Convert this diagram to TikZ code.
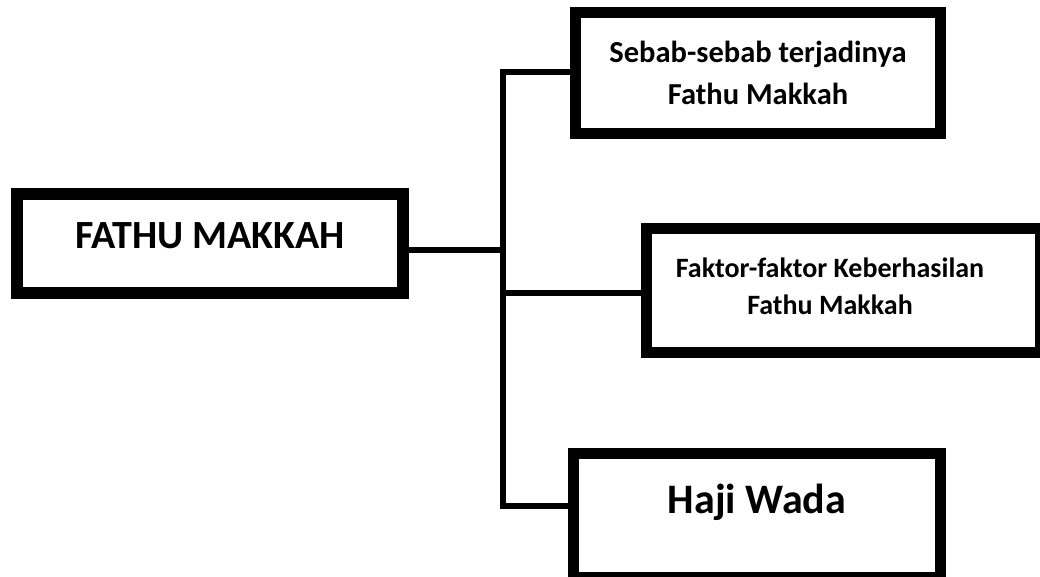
\documentclass[tikz,border=0pt]{standalone}
\usepackage{fontspec}
\setmainfont{Carlito}
\usepackage{tikz}
\usetikzlibrary{positioning}

\begin{document}
\begin{tikzpicture}[x=1pt,y=-1pt]
\tikzstyle{topic} = [draw,shape=rectangle,line width=12pt,inner sep=0pt,fill=white]
\tikzstyle{branch} = [draw,shape=rectangle,line width=11pt,inner sep=0pt,fill=white]
\tikzstyle{link} = [line width=6pt,line cap=rect,line join=miter]
\tikzstyle{caption} = [inner sep=0pt,align=center,font=\bfseries]

\clip (0,0) rectangle (1040,577);

\node[topic,minimum width=386pt,minimum height=99pt] (fm) at (210,243.5) {};
\node[branch,minimum width=365pt,minimum height=121pt] (sebab) at (758,73) {};
\node[branch,minimum width=394pt,minimum height=124pt] (faktor) at (843.5,290.5) {};
\node[branch,minimum width=367pt,minimum height=124pt] (haji) at (757,515.5) {};

\node[caption,anchor=base,font=\fontsize{40}{48}\selectfont\bfseries] (fmtext) at (210,248) {FATHU MAKKAH};
\node[caption,font=\fontsize{30.5}{42}\selectfont\bfseries] (sebabtext) at (758,73) {Sebab-sebab terjadinya\\Fathu Makkah};
\node[caption,font=\fontsize{28}{37}\selectfont\bfseries] (faktortext) at (830,286) {Faktor-faktor Keberhasilan\\Fathu Makkah};
\node[caption,anchor=base,font=\fontsize{42}{50}\selectfont\bfseries] (hajitext) at (757,513) {Haji Wada};

% trunk
\coordinate (t1) at (503,72);
\coordinate (t2) at (503,250);
\coordinate (t3) at (503,293);
\coordinate (t4) at (503,506);

\draw[link] (sebab.west |- t1) -- (t1) -- (t4) -- (haji.west |- t4);
\draw[link] (fm.east |- t2) -- (t2);
\draw[link] (t3) -- (faktor.west |- t3);
\end{tikzpicture}
\end{document}
